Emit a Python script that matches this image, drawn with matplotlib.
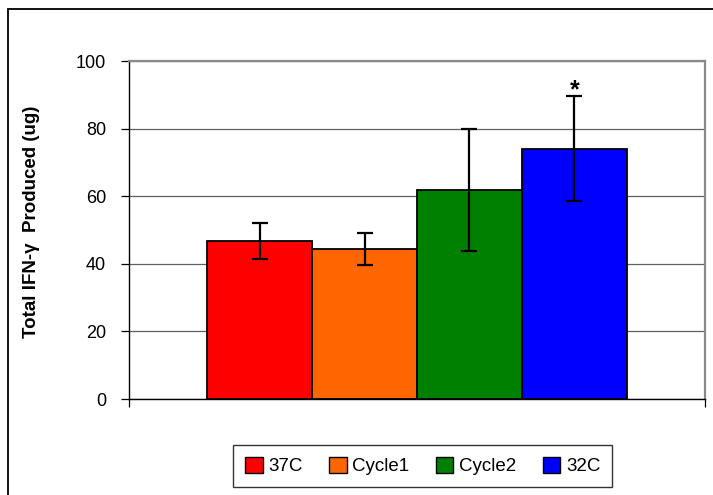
import matplotlib.pyplot as plt
from matplotlib.patches import Patch, Rectangle

# values
groups = ['37C', 'Cycle1', 'Cycle2', '32C']
means = [46.8, 44.4, 61.8, 74.1]
errs = [5.4, 4.8, 18.0, 15.4]
colors = ['#FF0000', '#FF6600', '#008000', '#0000FF']
yticks = [0, 20, 40, 60, 80, 100]

plt.rcParams['font.family'] = ['Liberation Sans', 'DejaVu Sans']

fig = plt.figure(figsize=(7.13, 4.95), dpi=100)
ax = fig.add_axes([129/713, 1-399/495, 576/713, 338/495])

xs = list(range(len(groups)))
ax.bar(xs, means, width=1.0, color=colors, edgecolor='black', linewidth=1.3, zorder=3)
ax.errorbar(xs, means, yerr=errs, fmt='none', ecolor='black', elinewidth=1.6,
            capsize=6, capthick=1.6, zorder=4)
ax.text(3, means[3] + errs[3] - 1.6, '*', ha='center', va='bottom',
        fontsize=18, fontweight='bold')

ax.set_xlim(-1.243, 4.243)
ax.set_ylim(0, 100)
ax.set_yticks(yticks)
ax.tick_params(axis='y', direction='out', length=5.5, width=0.9, pad=11, labelsize=13)
ax.set_xticks([-1.243, 4.243])
ax.set_xticklabels([])
ax.tick_params(axis='x', direction='out', length=6, width=0.9)
ax.yaxis.grid(True, color='#606060', linewidth=0.9, zorder=0)
ax.set_axisbelow(True)

for s in ['top', 'right']:
    ax.spines[s].set_color('#8a8a8a')
    ax.spines[s].set_linewidth(1.6)
for s in ['left', 'bottom']:
    ax.spines[s].set_color('black')
    ax.spines[s].set_linewidth(1.0)

ax.set_ylabel('Total IFN-\u03b3  Produced (ug)', fontsize=13.5, fontweight='bold')
ax.yaxis.set_label_coords((40-129)/576, (399-222)/338)

handles = [Patch(facecolor=c, edgecolor='black', linewidth=1.0) for c in colors]
leg = fig.legend(handles, groups, loc='center', bbox_to_anchor=(422.5/713, 1-466/495),
                 ncol=4, fontsize=13.5, frameon=True, fancybox=False, shadow=False,
                 handlelength=0.95, handleheight=0.95, handletextpad=0.3,
                 columnspacing=1.4, borderpad=0.62)
leg.get_frame().set_edgecolor('black')
leg.get_frame().set_linewidth(1.0)

# outer chart border (runs off the right and bottom of the picture)
fig.patches.append(Rectangle((8/713, -0.2), 1.2, 1.2 - 9/495, transform=fig.transFigure,
                             fill=False, edgecolor='black', linewidth=1.3, clip_on=False))

fig.savefig('out.png', dpi=100)
